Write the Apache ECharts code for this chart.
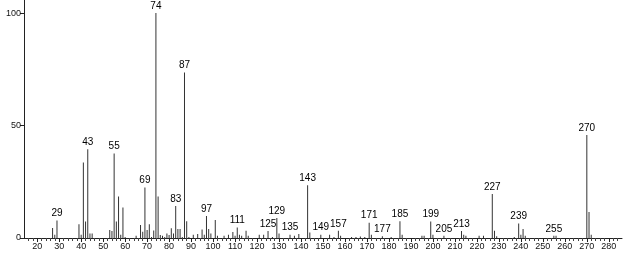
<!DOCTYPE html>
<html>
<head>
<meta charset="utf-8">
<script src="https://cdn.jsdelivr.net/npm/echarts@6/dist/echarts.min.js"></script>
<style>
html,body{margin:0;padding:0;background:#fff;}
#c{width:623px;height:254px;}
</style>
</head>
<body>
<div id="c"></div>
<script>
// m/z values and relative intensities
const mz = [27,28,29,39,40,41,42,43,44,45,53,54,55,56,57,58,59,60,65,67,68,69,70,71,72,73,74,75,76,77,78,79,80,81,82,83,84,85,86,87,88,89,91,93,95,96,97,98,99,101,102,105,107,109,110,111,112,113,115,116,121,123,125,127,129,130,135,137,139,143,144,149,153,155,157,158,163,165,167,169,171,172,177,181,185,186,195,196,199,200,205,213,214,215,221,223,227,228,229,237,239,240,241,242,255,256,270,271,272];
const intensity = [4.4,1.5,7.8,6.1,1.5,33.6,7.3,39.4,2,2,3.6,3.1,37.6,7.3,18.5,1.5,13.6,0.5,1,5.8,2.8,22.4,3.6,6.1,0.5,3.3,100,18.4,1.3,1,0.5,2,1.3,4.3,2,14.2,4,4,0.5,73.6,7.5,0.5,1.5,1.8,3.8,1.5,9.8,4,2,8,1,1,1.5,2.7,1,4.7,1.5,1,3.2,1,1.5,1.5,3.1,0.5,8.9,2,1.5,1,1.8,23.5,2.5,1.5,1.5,0.5,3.2,1,0.5,0.5,0.7,0.5,6.8,1.5,0.8,0.5,7.4,1.5,1,1,7.3,1.5,1,3.1,1.5,1,1,1,19.6,3.2,0.8,0.5,6.5,1.5,4,1,1,1,45.8,11.6,1.5];
const labeledMz = [29,43,55,69,74,83,87,97,111,125,129,135,143,149,157,171,177,185,199,205,213,227,239,255,270];
const xTickLabels = [20,30,40,50,60,70,80,90,100,110,120,130,140,150,160,170,180,190,200,210,220,230,240,250,260,270,280];
const xMinorTicks = [];
for (let v = 16; v <= 284; v += 2) xMinorTicks.push(v);
const yTickLabels = [0,50,100];

const data = mz.map((m, i) => ({
  value: [m, intensity[i]],
  label: { show: labeledMz.indexOf(m) >= 0 }
}));

const chart = echarts.init(document.getElementById('c'), null, {renderer: 'canvas'});
const FONT = 'Liberation Sans';
chart.setOption({
  animation: false,
  backgroundColor: '#fff',
  grid: { left: 24, right: 1, top: 0, bottom: 16 },
  xAxis: [{
    type: 'value', min: 14, max: 286,
    axisLine: { show: true, lineStyle: { color: '#222', width: 1 } },
    axisTick: { show: true, customValues: xMinorTicks, length: 3, lineStyle: { color: '#444' } },
    axisLabel: { show: false },
    splitLine: { show: false }
  }, {
    type: 'value', min: 14, max: 286, position: 'bottom',
    axisLine: { show: false },
    axisTick: { show: true, customValues: xTickLabels, length: 4, lineStyle: { color: '#222' } },
    axisLabel: { show: true, customValues: xTickLabels, color: '#111', fontSize: 9, fontFamily: FONT, margin: 4 },
    splitLine: { show: false }
  }],
  yAxis: {
    type: 'value', min: 0, max: 105.8,
    axisLine: { show: true, lineStyle: { color: '#222', width: 1 } },
    axisTick: { show: true, customValues: yTickLabels, length: 4, lineStyle: { color: '#222' } },
    axisLabel: { show: true, customValues: yTickLabels, color: '#111', fontSize: 9, fontFamily: FONT, margin: 3 },
    splitLine: { show: false }
  },
  series: [{
    type: 'bar',
    xAxisIndex: 0,
    barWidth: 1,
    itemStyle: { color: '#333' },
    label: { position: 'top', distance: 2, color: '#000', fontSize: 10, fontFamily: FONT,
      formatter: p => String(p.value[0]) },
    data: data
  }]
});
</script>
</body>
</html>
